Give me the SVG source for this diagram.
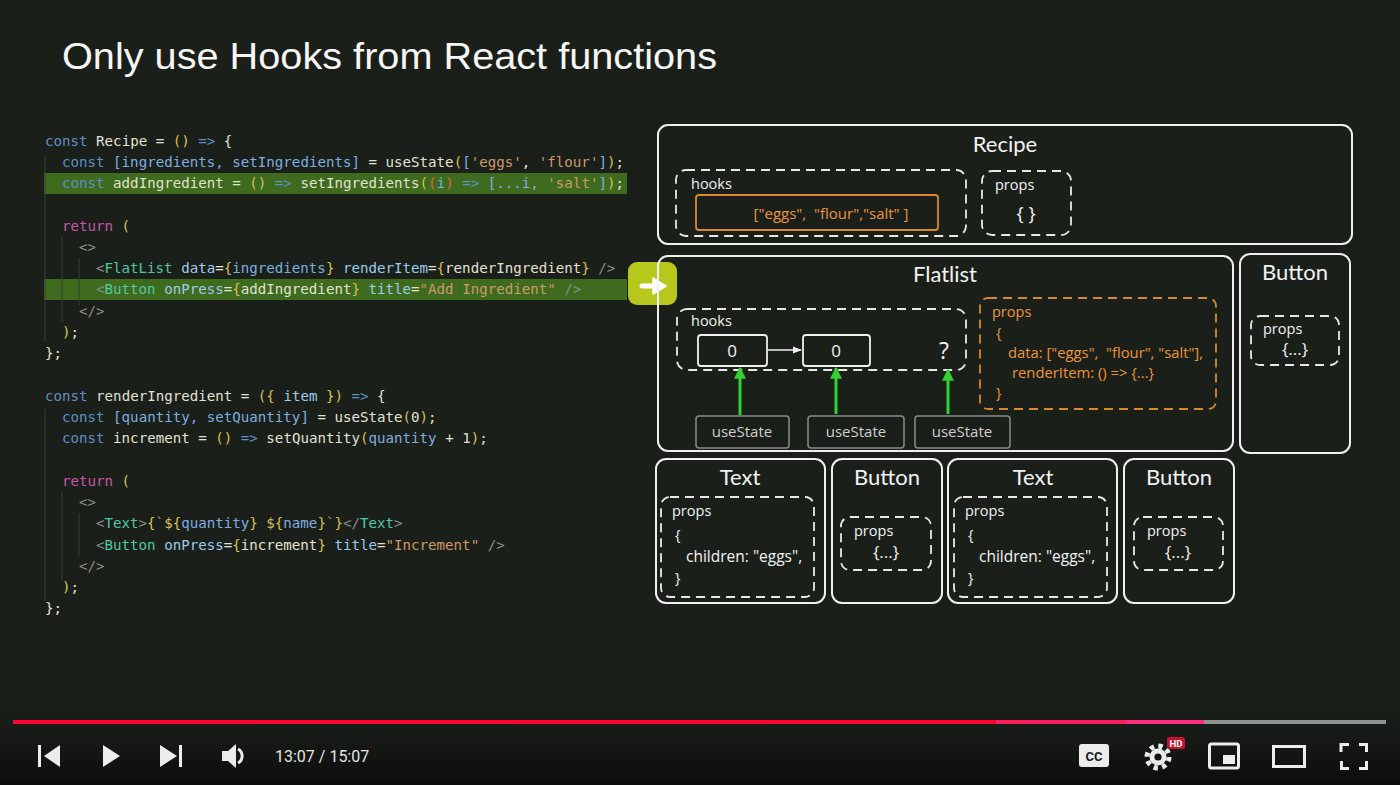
<svg xmlns="http://www.w3.org/2000/svg" width="1400" height="785" viewBox="0 0 1400 785">
<defs>
<style>
.code{font-family:"DejaVu Sans Mono","Liberation Mono",monospace;font-size:14.15px;fill:#e2e2d2;white-space:pre}
.kw{fill:#5f8fc4}.y{fill:#d8c058}.s{fill:#cf9a68}.b{fill:#7eaee0}.a{fill:#9ccbec}.t{fill:#4fc9a4}.g{fill:#8c8c8c}.r{fill:#c656ab}.rp{fill:#d06a4a}
.lbl{font-family:"Open Sans","Noto Sans",sans-serif;fill:#f2f2f2;white-space:pre}
.big{font-family:Lato,"Noto Sans",sans-serif;font-size:22px;text-anchor:middle}
.sm{font-size:14.5px}
.mid{font-size:15.5px}
.om{font-size:14.8px}
.c{text-anchor:middle}
.box{fill:none;stroke:#f0f0f0;stroke-width:2}
.dash{fill:none;stroke:#e8e8e8;stroke-width:1.8;stroke-dasharray:9 6}
.odash{fill:none;stroke:#d9892b;stroke-width:1.8;stroke-dasharray:9 6}
.org{fill:#ec9538}
.us{fill:none;stroke:#8a8a8a;stroke-width:1.5}
.ust{font-family:"Open Sans","Noto Sans",sans-serif;font-size:15px;fill:#cfcfcf;text-anchor:middle}
.ga{stroke:#2fd22f;stroke-width:3;fill:none}
.guide{stroke:#3a3f3a;stroke-width:1}
.ic{fill:#ececec}
</style>
<marker id="gh" viewBox="0 0 10 10" refX="9" refY="5" markerWidth="4" markerHeight="4" orient="auto"><path d="M0 0L10 5L0 10z" fill="#2fd22f"/></marker>
<marker id="wh" viewBox="0 0 10 10" refX="9" refY="5" markerWidth="6" markerHeight="6" orient="auto"><path d="M0 1L10 5L0 9z" fill="#f0f0f0"/></marker>
<linearGradient id="pg" x1="0" y1="0" x2="0" y2="1"><stop offset="0" stop-color="#1b1f1a" stop-opacity="0"/><stop offset="1" stop-color="#0a0c0a"/></linearGradient>
</defs>
<rect width="1400" height="785" fill="#1b1f1a"/>
<rect y="680" width="1400" height="105" fill="url(#pg)"/>

<text x="62" y="69" font-family="Liberation Sans,Arial,sans-serif" font-size="37" fill="#f6f6f6" textLength="655" lengthAdjust="spacingAndGlyphs">Only use Hooks from React functions</text>

<g id="code">
<rect x="44" y="173" width="583" height="21" fill="#3e6b1e"/>
<rect x="44" y="279" width="583" height="21" fill="#3e6b1e"/>
<line class="guide" x1="45" y1="156" x2="45" y2="342"/>
<line class="guide" x1="62" y1="237" x2="62" y2="322"/>
<line class="guide" x1="79" y1="258" x2="79" y2="305"/>
<line class="guide" x1="45" y1="409" x2="45" y2="601"/>
<line class="guide" x1="62" y1="492" x2="62" y2="580"/>
<line class="guide" x1="79" y1="513" x2="79" y2="556"/>

<text class="code" x="45" y="146"><tspan class="kw">const</tspan> Recipe = <tspan class="y">()</tspan> <tspan class="kw">=&gt;</tspan> {</text>
<text class="code" x="62" y="167"><tspan class="kw">const</tspan> <tspan class="b">[ingredients, setIngredients]</tspan> = useState<tspan class="y">(</tspan><tspan class="b">[</tspan><tspan class="s">'eggs'</tspan>, <tspan class="s">'flour'</tspan><tspan class="b">]</tspan><tspan class="y">)</tspan>;</text>
<text class="code" x="62" y="188"><tspan class="kw">const</tspan> addIngredient = <tspan class="y">()</tspan> <tspan class="kw">=&gt;</tspan> setIngredients<tspan class="y">(</tspan><tspan class="rp">(</tspan><tspan class="b">i</tspan><tspan class="rp">)</tspan> <tspan class="kw">=&gt;</tspan> <tspan class="b">[...i,</tspan> <tspan class="s">'salt'</tspan><tspan class="b">]</tspan><tspan class="y">)</tspan>;</text>
<text class="code" x="62" y="231"><tspan class="r">return</tspan> <tspan class="y">(</tspan></text>
<text class="code g" x="79" y="252">&lt;&gt;</text>
<text class="code" x="96" y="273"><tspan class="g">&lt;</tspan><tspan class="t">FlatList</tspan> <tspan class="a">data</tspan>=<tspan class="y">{</tspan><tspan class="b">ingredients</tspan><tspan class="y">}</tspan> <tspan class="a">renderItem</tspan>=<tspan class="y">{</tspan>renderIngredient<tspan class="y">}</tspan> <tspan class="g">/&gt;</tspan></text>
<text class="code" x="96" y="294"><tspan class="g">&lt;</tspan><tspan class="t">Button</tspan> <tspan class="a">onPress</tspan>=<tspan class="y">{</tspan>addIngredient<tspan class="y">}</tspan> <tspan class="a">title</tspan>=<tspan class="s">"Add Ingredient"</tspan> <tspan class="g">/&gt;</tspan></text>
<text class="code g" x="79" y="316">&lt;/&gt;</text>
<text class="code" x="62" y="337"><tspan class="y">)</tspan>;</text>
<text class="code" x="45" y="358">};</text>

<text class="code" x="45" y="401"><tspan class="kw">const</tspan> renderIngredient = <tspan class="y">({</tspan> <tspan class="a">item</tspan> <tspan class="y">})</tspan> <tspan class="kw">=&gt;</tspan> {</text>
<text class="code" x="62" y="422"><tspan class="kw">const</tspan> <tspan class="b">[quantity, setQuantity]</tspan> = useState<tspan class="y">(</tspan>0<tspan class="y">)</tspan>;</text>
<text class="code" x="62" y="443"><tspan class="kw">const</tspan> increment = <tspan class="y">()</tspan> <tspan class="kw">=&gt;</tspan> setQuantity<tspan class="y">(</tspan><tspan class="b">quantity</tspan> + 1<tspan class="y">)</tspan>;</text>
<text class="code" x="62" y="486"><tspan class="r">return</tspan> <tspan class="y">(</tspan></text>
<text class="code g" x="79" y="507">&lt;&gt;</text>
<text class="code" x="96" y="528"><tspan class="g">&lt;</tspan><tspan class="t">Text</tspan><tspan class="g">&gt;</tspan><tspan class="y">{</tspan><tspan class="s">`</tspan><tspan class="y">${</tspan><tspan class="b">quantity</tspan><tspan class="y">}</tspan> <tspan class="y">${</tspan><tspan class="b">name</tspan><tspan class="y">}</tspan><tspan class="s">`</tspan><tspan class="y">}</tspan><tspan class="g">&lt;/</tspan><tspan class="t">Text</tspan><tspan class="g">&gt;</tspan></text>
<text class="code" x="96" y="550"><tspan class="g">&lt;</tspan><tspan class="t">Button</tspan> <tspan class="a">onPress</tspan>=<tspan class="y">{</tspan>increment<tspan class="y">}</tspan> <tspan class="a">title</tspan>=<tspan class="s">"Increment"</tspan> <tspan class="g">/&gt;</tspan></text>
<text class="code g" x="79" y="571">&lt;/&gt;</text>
<text class="code" x="62" y="592"><tspan class="y">)</tspan>;</text>
<text class="code" x="45" y="613">};</text>
</g>

<g id="pointer">
<rect x="628" y="262" width="49" height="43" rx="9" fill="#b7c71c"/>
<path d="M642 286H656" stroke="#fff" stroke-width="5" stroke-linecap="round"/>
<path d="M653 278L666 286L653 294z" fill="#fff" stroke="#fff" stroke-width="1.5" stroke-linejoin="round"/>
</g>

<g id="recipe">
<rect class="box" x="658" y="125" width="694" height="119" rx="10"/>
<text class="lbl big" x="1005" y="152">Recipe</text>
<rect class="dash" x="676" y="170" width="290" height="66" rx="10"/>
<text class="lbl sm" x="691" y="189">hooks</text>
<rect x="696" y="195" width="242" height="35" rx="3" fill="none" stroke="#d98a2b" stroke-width="1.8"/>
<text class="lbl org c" x="831" y="219" style="font-size:15px">["eggs",  "flour","salt" ]</text>
<rect class="dash" x="982" y="171" width="89" height="64" rx="10"/>
<text class="lbl sm" x="995" y="190">props</text>
<text class="lbl c" x="1026" y="220" style="font-size:19px">{ }</text>
</g>

<g id="flatlist">
<rect class="box" x="658" y="256" width="575" height="195" rx="10"/>
<text class="lbl big" x="945" y="282">Flatlist</text>
<rect class="dash" x="677" y="309" width="289" height="61" rx="10"/>
<text class="lbl sm" x="691" y="326">hooks</text>
<rect x="698" y="335" width="69" height="31" rx="3" fill="none" stroke="#f0f0f0" stroke-width="1.8"/>
<text class="lbl c" x="732" y="357" style="font-size:17px">0</text>
<rect x="803" y="335" width="67" height="31" rx="3" fill="none" stroke="#f0f0f0" stroke-width="1.8"/>
<text class="lbl c" x="836" y="357" style="font-size:17px">0</text>
<text class="lbl c" x="944" y="359" style="font-size:23px">?</text>
<rect class="odash" x="980" y="298" width="236" height="111" rx="8"/>
<text class="lbl sm org" x="992" y="317">props</text>
<text class="lbl sm org" x="996" y="338">{</text>
<text class="lbl om org" x="1008" y="358">data: ["eggs",  "flour", "salt"],</text>
<text class="lbl om org" x="1012" y="378">renderItem: () =&gt; {...}</text>
<text class="lbl sm org" x="996" y="398">}</text>
<rect class="us" x="696" y="416" width="93" height="32" rx="3"/>
<text class="ust" x="742" y="437">useState</text>
<rect class="us" x="808" y="416" width="96" height="32" rx="3"/>
<text class="ust" x="856" y="437">useState</text>
<rect class="us" x="915" y="416" width="95" height="32" rx="3"/>
<text class="ust" x="962" y="437">useState</text>
</g>

<g id="button-top">
<rect class="box" x="1240" y="254" width="110" height="199" rx="10"/>
<text class="lbl big" x="1295" y="280">Button</text>
<rect class="dash" x="1251" y="316" width="88" height="49" rx="9"/>
<text class="lbl sm" x="1263" y="334">props</text>
<text class="lbl c" x="1295" y="355" style="font-size:17px">{...}</text>
</g>

<g id="text-1">
<rect class="box" x="656" y="459" width="169" height="144" rx="10"/>
<text class="lbl big" x="740" y="485">Text</text>
<rect class="dash" x="661" y="497" width="153" height="100" rx="9"/>
<text class="lbl sm" x="672" y="516">props</text>
<text class="lbl sm" x="675" y="540">{</text>
<text class="lbl mid" x="686" y="562">children: "eggs",</text>
<text class="lbl sm" x="675" y="583">}</text>
</g>
<g id="button-1">
<rect class="box" x="832" y="459" width="110" height="144" rx="10"/>
<text class="lbl big" x="887" y="485">Button</text>
<rect class="dash" x="841" y="517" width="90" height="53" rx="9"/>
<text class="lbl sm" x="854" y="536">props</text>
<text class="lbl c" x="886" y="558" style="font-size:17px">{...}</text>
</g>
<g id="text-2">
<rect class="box" x="948" y="459" width="169" height="144" rx="10"/>
<text class="lbl big" x="1033" y="485">Text</text>
<rect class="dash" x="954" y="497" width="153" height="100" rx="9"/>
<text class="lbl sm" x="965" y="516">props</text>
<text class="lbl sm" x="968" y="540">{</text>
<text class="lbl mid" x="979" y="562">children: "eggs",</text>
<text class="lbl sm" x="968" y="583">}</text>
</g>
<g id="button-2">
<rect class="box" x="1124" y="459" width="110" height="144" rx="10"/>
<text class="lbl big" x="1179" y="485">Button</text>
<rect class="dash" x="1134" y="517" width="89" height="53" rx="9"/>
<text class="lbl sm" x="1147" y="536">props</text>
<text class="lbl c" x="1178" y="558" style="font-size:17px">{...}</text>
</g>

<g id="connectors">
<line x1="768" y1="350" x2="801" y2="350" stroke="#f0f0f0" stroke-width="1.5" marker-end="url(#wh)"/>
<line class="ga" x1="740" y1="415" x2="740" y2="368" marker-end="url(#gh)"/>
<line class="ga" x1="836" y1="414" x2="836" y2="368" marker-end="url(#gh)"/>
<line class="ga" x1="948" y1="414" x2="948" y2="370" marker-end="url(#gh)"/>
</g>

<g id="player">
<rect x="13" y="720" width="983" height="4" fill="#ff0033"/>
<rect x="996" y="720" width="129" height="4" fill="#ff1e5c"/>
<rect x="1125" y="720" width="79" height="4" fill="#ff2c80"/>
<rect x="1204" y="720" width="182" height="4" fill="#8d928d"/>
<rect class="ic" x="38" y="745" width="3" height="22"/>
<path class="ic" d="M60 745V767L44 756z"/>
<path class="ic" d="M103 745V767L120 756z"/>
<path class="ic" d="M160 745V767L177 756z"/>
<rect class="ic" x="179" y="745" width="3" height="22"/>
<path class="ic" d="M222 751H228L236 744V768L228 761H222z"/>
<path d="M238 749A8 8 0 0 1 238 763" fill="none" stroke="#ececec" stroke-width="3"/>
<text x="275" y="762" font-family="Roboto,'Liberation Sans',sans-serif" font-size="16" fill="#e4e4e4">13:07 / 15:07</text>
<rect class="ic" x="1079" y="744" width="30" height="23" rx="3"/>
<text x="1094" y="761" text-anchor="middle" font-family="Roboto,'Liberation Sans',sans-serif" font-weight="bold" font-size="13" fill="#1a1a1a">CC</text>
<circle cx="1158" cy="757" r="11" fill="none" stroke="#ececec" stroke-width="5" stroke-dasharray="4.32 4.32"/>
<circle cx="1158" cy="757" r="8.5" fill="#ececec"/>
<circle cx="1158" cy="757" r="3.6" fill="#121512"/>
<rect x="1167" y="737" width="18" height="12" rx="2" fill="#c5122c"/>
<text x="1176" y="747" text-anchor="middle" font-family="Roboto,'Liberation Sans',sans-serif" font-weight="bold" font-size="9.5" fill="#fff">HD</text>
<rect x="1209.5" y="744" width="29" height="24" rx="2" fill="none" stroke="#ececec" stroke-width="3"/>
<rect class="ic" x="1223" y="755" width="12" height="9"/>
<rect x="1273.5" y="746.5" width="31" height="20" fill="none" stroke="#ececec" stroke-width="3"/>
<path d="M1341 752V744.5H1349M1359 744.5H1366.5V752M1366.5 761V768.5H1359M1349 768.5H1341.5V761" fill="none" stroke="#ececec" stroke-width="3"/>
</g>
</svg>
